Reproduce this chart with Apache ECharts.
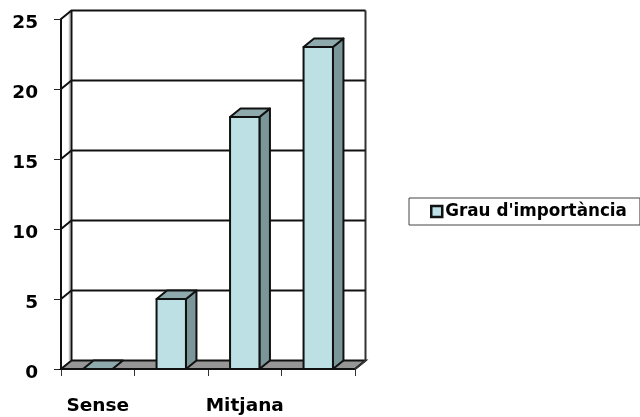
<!DOCTYPE html>
<html>
<head>
<meta charset="utf-8">
<script src="https://cdn.jsdelivr.net/npm/echarts@6/dist/echarts.min.js"></script>
<style>html,body{margin:0;padding:0;background:#fff}#c{width:640px;height:417px}</style>
</head>
<body>
<div id="c"></div>
<script>
const categories = ["Sense", "", "Mitjana", ""];
const values = [0, 5, 18, 23];
const yTicks = [0, 5, 10, 15, 20, 25];
const seriesName = "Grau d'importància";

const DX = 10.5, DY = 8.5, BAR = 0.4;
const FONT = "DejaVu Sans";
const LINE = "#111";

function wallItem(params, api) {
  const cs = params.coordSys;
  const L = cs.x, R = cs.x + cs.width, B = cs.y + cs.height, T = cs.y;
  const children = [
    {type:'polygon', shape:{points:[[L,B],[L+DX,B-DY],[R+DX,B-DY],[R,B]]},
     style:{fill:'#969696',stroke:LINE,lineWidth:2}},
    {type:'polyline', shape:{points:[[L+DX-2,T-DY],[L+DX-2,B-DY]]}, style:{fill:null,stroke:'#c4c4c4',lineWidth:1.5}},
    {type:'polyline', shape:{points:[[L+DX,T-DY],[L+DX,B-DY]]}, style:{fill:null,stroke:LINE,lineWidth:2}},
    {type:'polyline', shape:{points:[[R+DX,T-DY],[R+DX,B-DY],[R,B]]}, style:{fill:null,stroke:'#333',lineWidth:2}}
  ];
  return {type:'group', children};
}
function gridItem(params, api) {
  const cs = params.coordSys;
  const y = api.coord([0, api.value(0)])[1];
  const L = cs.x, R = cs.x + cs.width;
  if (api.value(0) === 0) return {type:'group', children:[]};
  return {type:'polyline', shape:{points:[[L,y],[L+DX,y-DY],[R+DX,y-DY]]},
    style:{fill:null,stroke:LINE,lineWidth:2}};
}
function barItem(params, api) {
  const i = api.value(0);
  const top = api.coord([i, api.value(1)]);
  const base = api.coord([i, 0]);
  const w = api.size([1, 0])[0] * BAR;
  const x0 = top[0] - w / 2, x1 = top[0] + w / 2, y0 = top[1], y1 = base[1];
  const s = {stroke:LINE, lineWidth:2, lineJoin:'round'};
  const children = [];
  if (y1 - y0 > 0.5) {
    children.push({type:'polygon', shape:{points:[[x1,y0],[x1+DX,y0-DY],[x1+DX,y1-DY],[x1,y1]]},
      style:Object.assign({fill:'#7a9698'}, s)});
    children.push({type:'rect', shape:{x:x0,y:y0,width:w,height:y1-y0},
      style:Object.assign({fill:'#bde0e4'}, s)});
  }
  children.push({type:'polygon', shape:{points:[[x0,y0],[x0+DX,y0-DY],[x1+DX,y0-DY],[x1,y0]]},
    style:Object.assign({fill:'#8eaaad'}, s)});
  return {type:'group', children};
}

const chart = echarts.init(document.getElementById('c'), null, {renderer:'canvas'});
chart.setOption({
  animation:false,
  backgroundColor:'#fff',
  grid:{left:61, right:285, top:19, bottom:48, containLabel:false},
  legend:{
    left:409, top:198, orient:'horizontal',
    data:[{name:seriesName, icon:'rect', itemStyle:{color:'#bde0e4',borderColor:'#111',borderWidth:2.5}}],
    itemWidth:11, itemHeight:11, itemGap:0,
    padding:[5,13,5,21],
    backgroundColor:'#fff', borderColor:'#444', borderWidth:1, borderRadius:0,
    textStyle:{fontFamily:FONT,fontWeight:'bold',fontSize:16.8,color:'#000',padding:[0,0,0,-2]},
    selectedMode:false
  },
  xAxis:{
    type:'category', data:categories,
    axisLine:{show:true,lineStyle:{color:LINE,width:2}},
    axisTick:{show:true,alignWithLabel:false,length:7,lineStyle:{color:'#333',width:1}},
    axisLabel:{interval:0,margin:28,fontFamily:FONT,fontWeight:'bold',fontSize:18.5,color:'#000'},
    splitLine:{show:false}
  },
  yAxis:{
    type:'value', min:0, max:25, interval:5,
    axisLine:{show:true,lineStyle:{color:LINE,width:2}},
    axisTick:{show:true,length:7,lineStyle:{color:'#222',width:1}},
    axisLabel:{margin:23,fontFamily:FONT,fontWeight:'bold',fontSize:18.5,color:'#000',verticalAlign:'top',lineHeight:8},
    splitLine:{show:false}
  },
  series:[
    {type:'custom', silent:true, z:1, legendHoverLink:false, renderItem:wallItem, data:[[0]], tooltip:{show:false}, encode:{x:0}},
    {type:'custom', silent:true, z:2, renderItem:gridItem, data:yTicks.map(v=>[v]), encode:{y:0}},
    {type:'custom', name:seriesName, z:3, renderItem:barItem,
     itemStyle:{color:'#bde0e4'},
     data:values.map((v,i)=>[i,v]), encode:{x:0,y:1}}
  ]
});
</script>
</body>
</html>
